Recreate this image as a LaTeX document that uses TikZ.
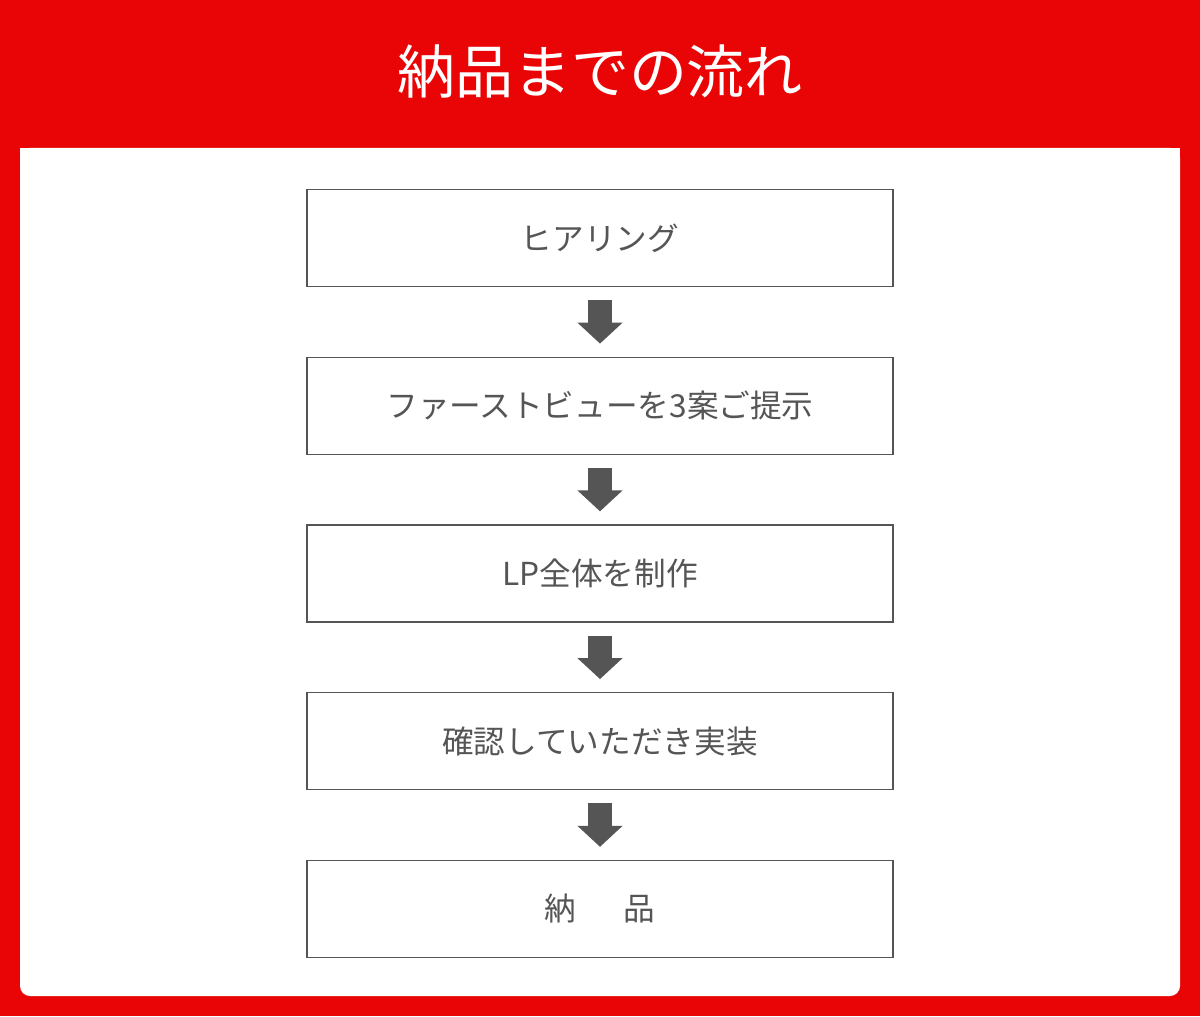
\documentclass[tikz,border=0pt]{standalone}
\usepackage{fontspec}
\newfontfamily\cjk{Noto Sans CJK JP}
\usepackage{tikz}
\usetikzlibrary{positioning,arrows.meta}
\definecolor{bandred}{HTML}{E90505}
\definecolor{textgray}{HTML}{555555}
\definecolor{arrowgray}{HTML}{555555}
\begin{document}
\begin{tikzpicture}[
    stage/.style={draw=textgray, line width=0.7pt, minimum width=11.72cm, minimum height=1.94cm,
      font=\cjk\fontsize{18}{20}\selectfont, text=textgray},
    flow/.style={draw=arrowgray, line width=0.48cm, shorten <=0.26cm, shorten >=0.26cm,
      -{Triangle[width=0.88cm,length=0.42cm]}}
  ]
  \fill[bandred] (0,0) rectangle (24,20.32);
  \useasboundingbox (0,0) rectangle (24,20.32);
  \fill[white, rounded corners=0.2cm] (0.4,0.4) -- (0.4,17.36) -- (23.6,17.36) -- (23.6,0.4) -- cycle;
  \fill[white] (0.4,17.36) rectangle (23.6,16.8);
  \node[text=white, font=\cjk\fontsize{33}{36}\selectfont] (title) at (12,18.88) {納品までの流れ};
  % 手順
  \node[stage] (hearing) at (12,15.56) {ヒアリング};
  \node[stage, below=1.39cm of hearing] (fv) {ファーストビューを3案ご提示};
  \node[stage, below=1.39cm of fv] (lp) {LP全体を制作};
  \node[stage, below=1.39cm of lp] (check) {確認していただき実装};
  \node[stage, below=1.39cm of check] (deliver) {納\hspace{1.5em}品};
  % 矢印
  \draw[flow] (hearing) -- (fv);
  \draw[flow] (fv) -- (lp);
  \draw[flow] (lp) -- (check);
  \draw[flow] (check) -- (deliver);
\end{tikzpicture}
\end{document}
